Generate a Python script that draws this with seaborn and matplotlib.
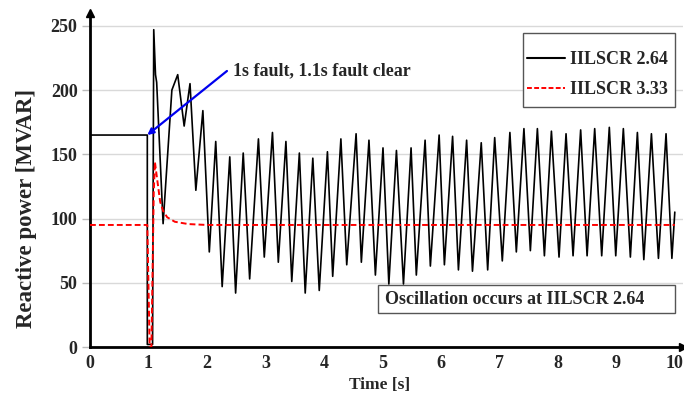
import matplotlib
matplotlib.use("Agg")
import matplotlib.pyplot as plt
import matplotlib.patches as mpatches
from matplotlib.lines import Line2D
import seaborn as sns
import pandas as pd

# ---- data ----
t_black = [0.0, 0.98, 0.98, 1.07, 1.09, 1.12, 1.14, 1.25, 1.40, 1.50, 1.61, 1.71, 1.81,
           1.93, 2.04, 2.15, 2.26, 2.39, 2.49, 2.62, 2.73, 2.88, 2.98, 3.12, 3.22,
           3.35, 3.45, 3.58, 3.68, 3.81, 3.92, 4.06, 4.15, 4.29, 4.39, 4.55, 4.64,
           4.77, 4.88, 5.01, 5.11, 5.24, 5.36, 5.49, 5.58, 5.73, 5.82, 5.97, 6.06,
           6.20, 6.30, 6.44, 6.54, 6.69, 6.80, 6.92, 7.05, 7.18, 7.29, 7.42, 7.53,
           7.65, 7.77, 7.89, 8.02, 8.14, 8.26, 8.39, 8.50, 8.63, 8.75, 8.88, 8.99,
           9.12, 9.24, 9.36, 9.47, 9.60, 9.72, 9.85, 9.95, 10.0]
q_black = [165, 165, 2, 2, 247, 212, 206, 96, 200, 212, 172, 205, 122,
           184, 74, 160, 47, 148, 42, 151, 53, 162, 70, 167, 66,
           160, 51, 151, 42, 147, 44, 152, 55, 162, 64, 166, 66,
           161, 56, 155, 49, 153, 49, 155, 56, 161, 63, 165, 64,
           164, 60, 161, 59, 159, 60, 163, 67, 167, 74, 170, 75,
           170, 71, 168, 70, 166, 71, 169, 71, 170, 71, 171, 71,
           170, 70, 167, 68, 166, 69, 166, 69, 105]

t_red = [0.0, 0.98, 1.02, 1.05, 1.09, 1.11, 1.15, 1.20, 1.25, 1.32, 1.45, 1.68, 2.0, 10.0]
q_red = [95, 95, 0, 0, 120, 144, 130, 113, 106, 101, 97.5, 95.7, 95, 95]

labels = ["IILSCR 2.64", "IILSCR 3.33"]
yticks = [0, 50, 100, 150, 200, 250]
xticks = list(range(0, 11))
fault_text = "1s fault, 1.1s fault clear"
fault_point = (0.98, 165)
note_text = "Oscillation occurs at IILSCR 2.64"

df_black = pd.DataFrame({"t": t_black, "q": q_black})
df_red = pd.DataFrame({"t": t_red, "q": q_red})

sns.set_style("white")
plt.rcParams["font.family"] = ["Liberation Serif", "DejaVu Serif"]
plt.rcParams["font.weight"] = "bold"

W, H = 684, 396
fig = plt.figure(figsize=(W / 100, H / 100), dpi=100)
ax = fig.add_axes([90 / W, (H - 347) / H, (683 - 90) / W, (347 - 13) / H])

ax.grid(axis="y", color="#d9d9d9", lw=1)
ax.set_axisbelow(True)

sns.lineplot(data=df_black, x="t", y="q", ax=ax, sort=False, estimator=None,
             color="black", lw=1.2, zorder=3, solid_joinstyle="round")
sns.lineplot(data=df_red, x="t", y="q", ax=ax, sort=False, estimator=None,
             color="#ff0000", lw=1.4, ls=(0, (3, 1.6)), zorder=4)

ax.set_xlim(0, 10.14)
ax.set_ylim(0, 260)
ax.set_yticks(yticks)
ax.set_xticks(xticks)
ax.tick_params(axis="y", length=6, width=1, color="#bbbbbb", labelsize=13, pad=3, left=True)
ax.tick_params(axis="x", length=0, labelsize=13, pad=6, bottom=True)
for lab in ax.get_xticklabels() + ax.get_yticklabels():
    lab.set_fontweight("bold")

for s in ["top", "right"]:
    ax.spines[s].set_visible(False)
for s in ["left", "bottom"]:
    ax.spines[s].set_color("black")
    ax.spines[s].set_linewidth(2)
ax.plot(1, 0, ">k", ms=6, transform=ax.transAxes, clip_on=False)
ax.plot(0, 1, "^k", ms=6, transform=ax.transAxes, clip_on=False)

ax.set_xlabel("Time [s]", fontsize=12.5, fontweight="bold", va="center")
ax.set_ylabel("Reactive power [MVAR]", fontsize=16.5, fontweight="bold", va="center")
ax.xaxis.set_label_coords((380 - 90) / 593, (347 - 385) / 334)
ax.yaxis.set_label_coords((27 - 90) / 593, (347 - 208) / 334)

# legend: frame drawn separately so its padding matches the reference
frame = mpatches.Rectangle((523 / W, 1 - 107 / H), 152 / W, 74 / H, transform=fig.transFigure,
                           facecolor="white", edgecolor="#555555", lw=1, zorder=5,
                           clip_on=False)
ax.add_patch(frame)
handles = [Line2D([], [], color="black", lw=1.5),
           Line2D([], [], color="#ff0000", lw=1.4, ls=(0, (2.5, 1.2)))]
leg = ax.legend(handles, labels, loc="upper left",
                bbox_to_anchor=((527 - 90) / 593, (347 - 51) / 334), borderaxespad=0,
                prop={"size": 13, "weight": "bold"}, frameon=False,
                handlelength=2.1, handletextpad=0.3, labelspacing=0.74, borderpad=0)
leg.set_zorder(6)

# fault annotation
ax.annotate("", xy=fault_point, xytext=((227 - 90) / 58.5, (347 - 71) / 1.2846),
            arrowprops=dict(arrowstyle="-|>", color="#0000ee", lw=1.6,
                            mutation_scale=9, shrinkA=0, shrinkB=0), zorder=6)
ax.text((233 - 90) / 58.5, (347 - 71) / 1.2846, fault_text, fontsize=13,
        fontweight="bold", ha="left", va="center", zorder=6)

# oscillation note box
rect = mpatches.Rectangle((378 / W, 1 - 313 / H), 297 / W, 28 / H, transform=fig.transFigure,
                          facecolor="white", edgecolor="#555555", lw=1, zorder=7)
fig.patches.append(rect)
fig.text(385 / W, 1 - 300 / H, note_text, fontsize=13, fontweight="bold",
         ha="left", va="center", zorder=8)

fig.savefig("out.png", dpi=100)
